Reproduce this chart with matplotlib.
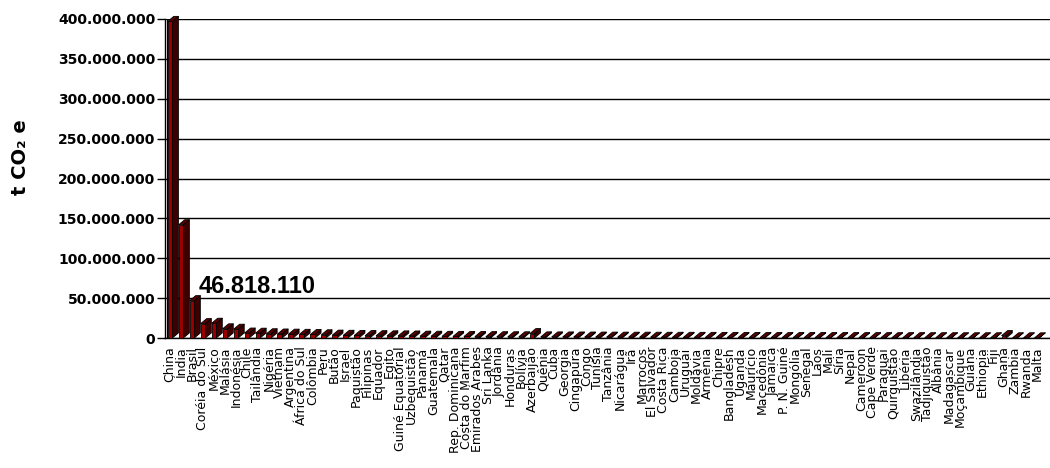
import numpy as np
import matplotlib
matplotlib.use('Agg')
import matplotlib.pyplot as plt
from matplotlib.collections import PolyCollection
from matplotlib.ticker import FuncFormatter

# Countries and emissions (t CO2e)
paises = ['China', 'Índia', 'Brasil', 'Coréia do Sul', 'México', 'Malásia', 'Indonésia', 'Chile',
          'Tailândia', 'Nigéria', 'Vietnam', 'Argentina', 'África do Sul', 'Colômbia', 'Peru',
          'Butão', 'Israel', 'Paquistão', 'Filipinas', 'Equador', 'Egito', 'Guiné Equatorial',
          'Uzbequistão', 'Panamá', 'Guatemala', 'Qatar', 'Rep. Dominicana', 'Costa do Marfim',
          'Emirados Árabes', 'Sri Lanka', 'Jordânia', 'Honduras', 'Bolívia', 'Azerbaijão',
          'Quênia', 'Cuba', 'Georgia', 'Cingapura', 'Congo', 'Tunísia', 'Tanzânia', 'Nicarágua',
          'Irã', 'Marrocos', 'El Salvador', 'Costa Rica', 'Camboja', 'Uruguai', 'Moldávia',
          'Armênia', 'Chipre', 'Bangladesh', 'Uganda', 'Maurício', 'Macedônia', 'Jamaica',
          'P. N. Guiné', 'Mongólia', 'Senegal', 'Laos', 'Mali', 'Síria', 'Nepal', 'Cameroon',
          'Cape Verde', 'Paraguai', 'Quirguistão', 'Libéria', 'Swazilândia', 'Tadjiquistão',
          'Albânia', 'Madagascar', 'Moçambique', 'Guiana', 'Ethiopia', 'Fiji', 'Ghana',
          'Zambia', 'Rwanda', 'Malta']

emissoes_mi = [397.0, 142.0, 46.818110, 18.0, 18.5, 11.5, 11.0, 6.2, 6.0, 5.3, 5.0, 4.8,
               4.6, 4.4, 4.0, 3.6, 3.4, 3.2, 3.0, 2.9, 2.7, 2.6, 2.5, 2.3, 2.2, 2.1, 2.0,
               1.9, 1.8, 1.7, 1.6, 1.55, 1.5, 5.5, 1.4, 1.35, 1.3, 1.25, 1.2, 1.15, 1.1,
               1.05, 1.0, 1.0, 0.95, 0.9, 0.9, 0.85, 0.8, 0.8, 0.75, 0.75, 0.7, 0.7, 0.65,
               0.65, 0.6, 0.6, 0.55, 0.55, 0.5, 0.5, 0.5, 0.45, 0.45, 0.45, 0.4, 0.4, 0.4,
               0.35, 0.35, 0.35, 0.3, 0.3, 0.3, 0.3, 3.0, 0.25, 0.25, 0.2]

valores = np.array(emissoes_mi) * 1e6
destaque = 2  # Brasil

fig = plt.figure(figsize=(10.5, 4.68), dpi=100)
ax = fig.add_axes([165/1050, 130/468, 885/1050, 319/468])

x = np.arange(len(paises))
w = 0.42          # front face width
dx = 0.55         # depth offset (category units)
dy = 6.3e6        # depth offset (value units)

frente = ax.bar(x, valores, width=w, color='#9a0000', edgecolor='black', linewidth=0.6,
                zorder=3, clip_on=False)

lados = []
topos = []
for xi, v in zip(x, valores):
    r = xi + w/2
    l = xi - w/2
    lados.append([(r, 0), (r + dx, dy), (r + dx, v + dy), (r, v)])
    topos.append([(l, v), (r, v), (r + dx, v + dy), (l + dx, v + dy)])
ax.add_collection(PolyCollection(lados, facecolors='#3d0000', edgecolors='black',
                                 linewidths=0.6, zorder=2, clip_on=False))
ax.add_collection(PolyCollection(topos, facecolors='#5a0000', edgecolors='black',
                                 linewidths=0.6, zorder=2, clip_on=False))

ax.set_xlim(-0.46, 80.2)
ax.set_ylim(0, 400e6)
ax.set_yticks(np.arange(0, 400e6 + 1, 50e6))
ax.yaxis.set_major_formatter(FuncFormatter(lambda v, p: f'{int(v):,}'.replace(',', '.')))
ax.grid(axis='y', color='black', linewidth=1.0, zorder=1)
ax.set_axisbelow(True)

for s in ['top', 'right']:
    ax.spines[s].set_visible(False)
ax.spines['left'].set_linewidth(1.0)
ax.spines['bottom'].set_linewidth(1.0)
ax.axvline(-0.26, color='black', linewidth=0.8, zorder=1)

ax.tick_params(axis='y', length=6, width=1, pad=1, labelsize=10)
for t in ax.get_yticklabels():
    t.set_fontweight('bold')
    t.set_family('DejaVu Sans')

ax.set_xticks(x)
ax.set_xticklabels(paises, rotation=90, fontsize=9, va='top', ha='center')
ax.tick_params(axis='x', length=0, pad=6)

ax.text(destaque + 0.65, valores[destaque] + 9.6e6,
        f'{valores[destaque]:,.0f}'.replace(',', '.'),
        fontsize=17, fontweight='bold', family='Liberation Sans', ha='left', va='baseline')

fig.text(21/1050, 1 - 157/468, 't CO₂ e', rotation=90, fontsize=14, fontweight='bold',
         ha='center', va='center')

fig.savefig('out.png', dpi=100)
